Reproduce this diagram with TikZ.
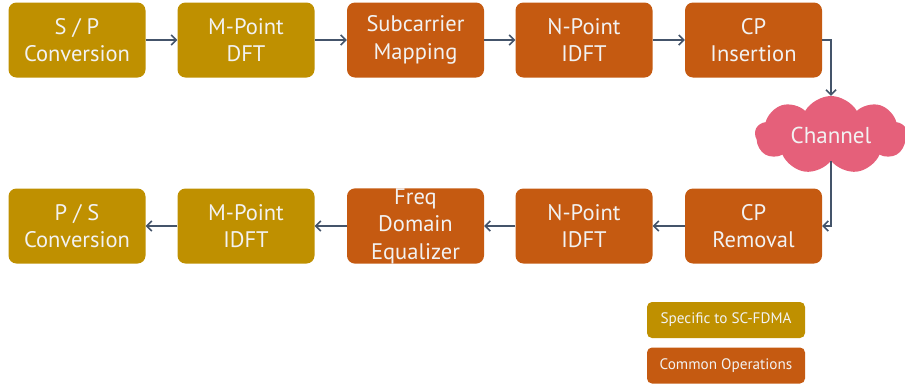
\documentclass[tikz,border=0pt]{standalone}
\usepackage{fontspec}
\setmainfont{PT Sans}
\usetikzlibrary{arrows.meta,shapes.symbols}
\definecolor{scgold}{HTML}{BF9000}
\definecolor{common}{HTML}{C55A11}
\definecolor{chan}{HTML}{E5607A}
\definecolor{wire}{HTML}{44546A}
\definecolor{label}{HTML}{F2F2F2}
\tikzset{
  block/.style={rounded corners=8pt, minimum width=137pt, minimum height=75pt,
    text=label, align=center, inner sep=0pt,
    font=\fontsize{22.5}{27.5}\selectfont},
  specific/.style={block, fill=scgold},
  shared/.style={block, fill=common},
  legendbox/.style={rounded corners=5pt, minimum width=158pt, minimum height=36pt,
    text=label, inner sep=0pt, font=\fontsize{15.2}{17}\selectfont},
  flow/.style={draw=wire, line width=1.5pt, -{Straight Barb[length=5pt,width=10pt,line width=1.5pt]}}
}
\begin{document}
\begin{tikzpicture}[x=1pt,y=-1pt]
\useasboundingbox (0,0) rectangle (905,389);
% transmitter chain
\node[specific] (sp)   at (77,40)    {S / P\\Conversion};
\node[specific] (mdft) at (246,40)   {M-Point\\DFT};
\node[shared]   (map)  at (415.5,40) {Subcarrier\\Mapping};
\node[shared]   (nidft) at (584,40)  {N-Point\\IDFT};
\node[shared]   (cpins) at (753.5,40) {CP\\Insertion};
% channel
\node[cloud, cloud puffs=9, cloud puff arc=120, aspect=2, fill=chan,
  minimum width=152pt, minimum height=78pt, inner sep=0pt,
  text=label, font=\fontsize{23}{26}\selectfont] (channel) at (831,135) {Channel};
% receiver chain
\node[shared]   (cprem) at (753.5,226) {CP\\Removal};
\node[shared]   (nidftr) at (584,226)  {N-Point\\IDFT};
\node[shared]   (feq)  at (415.5,226)  {Freq\\Domain\\Equalizer};
\node[specific] (midft) at (246,226)   {M-Point\\IDFT};
\node[specific] (ps)   at (77,226)     {P / S\\Conversion};
% legend
\node[legendbox, fill=scgold] (legspec) at (726,320)   {Specific to SC-FDMA};
\node[legendbox, fill=common] (legcomm) at (726,365.5) {Common Operations};
% connectors
\draw[flow] (sp) -- (mdft);
\draw[flow] (mdft) -- (map);
\draw[flow] (map) -- (nidft);
\draw[flow] (nidft) -- (cpins);
\draw[flow] (cpins.east) -| (channel.north);
\draw[flow] (channel.south) |- (cprem.east);
\draw[flow] (cprem) -- (nidftr);
\draw[flow] (nidftr) -- (feq);
\draw[flow] (feq) -- (midft);
\draw[flow] (midft) -- (ps);
\end{tikzpicture}
\end{document}
